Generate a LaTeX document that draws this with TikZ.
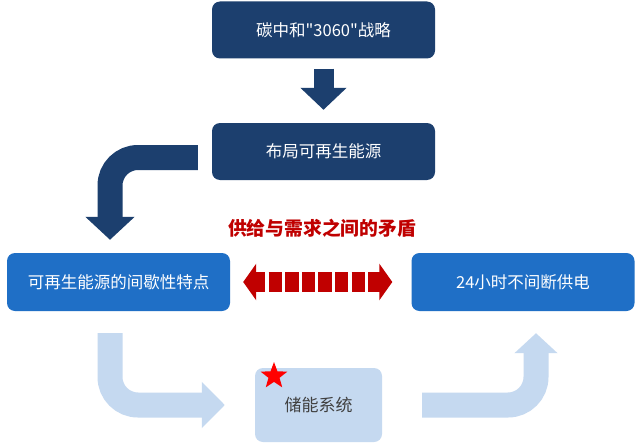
\documentclass[tikz,border=0pt]{standalone}
\usepackage{fontspec}
\newfontfamily\cjk{Noto Sans CJK SC}
\usetikzlibrary{arrows.meta,shapes.geometric,calc}
\definecolor{navy}{HTML}{1C3F6E}
\definecolor{midblue}{HTML}{1F6FC6}
\definecolor{paleblue}{HTML}{C5D9F0}
\definecolor{darkred}{HTML}{C00000}
\tikzset{
  box/.style={rounded corners=8pt, minimum width=223pt, minimum height=57pt,
    inner sep=0pt, text=white, font=\cjk\fontsize{16.5}{16.5}\selectfont},
  navybox/.style={box, fill=navy},
  bluebox/.style={box, fill=midblue, minimum height=58pt},
  storebox/.style={box, fill=paleblue, text=black!75, minimum width=127pt, minimum height=74pt,
    font=\cjk\fontsize{17}{17}\selectfont},
  fatarrow/.style={line width=#1, rounded corners=28pt},
}
\begin{document}
\begin{tikzpicture}[x=1pt, y=-1pt]
            \useasboundingbox[fill=white] (0,0) rectangle (640,444);

            % Boxes
            \node[navybox] (strategy) at (323.5,30) {碳中和"3060"战略};
            \node[navybox] (layout) at (323.5,151.5) {布局可再生能源};
            \node[bluebox] (source) at (118.5,282) {可再生能源的间歇性特点};
            \node[bluebox] (supply) at (523,282) {24小时不间断供电};
            \node[storebox] (store) at (318.5,405) {\raisebox{-2pt}{储能系统}};
            \node[star, star points=5, star point ratio=2.4, fill=red, minimum size=28pt,
              inner sep=0pt] (badge) at (274,376) {};

            % Dark arrows
            \draw[navy, line width=20pt, -{Triangle[width=45pt,length=22pt]}]
              ($(strategy.south)+(0,10)$) -- ($(layout.north)+(0,-13)$);
            \draw[navy, fatarrow=25pt, -{Triangle[width=48pt,length=23pt]}]
              ($(layout.west)+(-14,6)$) -| ($(source.north)+(-8.5,-13)$);

            % Conflict between supply and demand
            \draw[darkred, line width=20pt, dash pattern=on 13.3pt off 3.3pt, dash phase=3.3pt,
              {Triangle[width=36pt,length=13pt]}-{Triangle[width=36pt,length=13pt]},
              shorten <=13pt, shorten >=19pt] (source) -- (supply);
            \node[text=darkred, font=\cjk\bfseries\fontsize{18.8}{18.8}\selectfont] (clash) at (322,228)
              {供给与需求之间的矛盾};

            % Light arrows
            \draw[paleblue, fatarrow=25pt, -{Triangle[width=45pt,length=23pt]}]
              ($(source.south)+(-8.5,22)$) |- ($(store.west)+(-30,0)$);
            \draw[paleblue, fatarrow=25pt, -{Triangle[width=42pt,length=20pt]}]
              ($(store.east)+(40,0)$) -| ($(supply.south)+(13,22)$);
        \end{tikzpicture}
\end{document}
